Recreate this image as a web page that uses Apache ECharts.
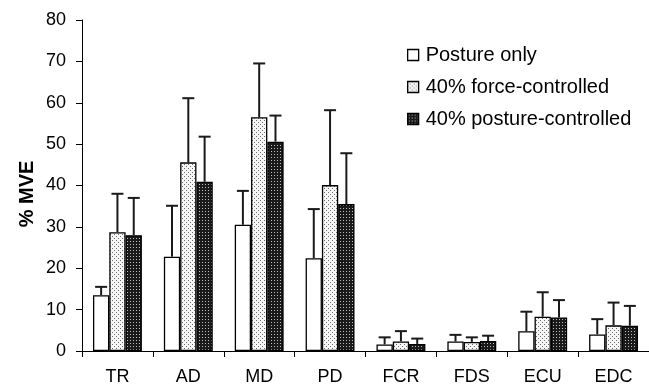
<!DOCTYPE html>
<html><head><meta charset="utf-8">
<script src="https://cdn.jsdelivr.net/npm/echarts@6/dist/echarts.min.js"></script>
<style>html,body{margin:0;padding:0;background:#fff}#c{width:649px;height:387px}</style>
</head><body><div id="c"></div>
<script>
var categories = ['TR','AD','MD','PD','FCR','FDS','ECU','EDC'];
var seriesNames = ['Posture only','40% force-controlled','40% posture-controlled'];
var postureOnly = [13.5, 22.8, 30.5, 22.4, 1.6, 2.3, 4.8, 4.0];
var forceCtrl   = [28.7, 45.6, 56.5, 40.1, 2.3, 2.2, 8.3, 6.2];
var postureCtrl = [28.0, 40.9, 50.6, 35.5, 1.7, 2.4, 8.1, 6.1];
var postureOnlySD = [2.0, 12.3, 8.2, 11.9, 1.7, 1.6, 4.7, 3.7];
var forceCtrlSD   = [9.3, 15.5, 13.0, 18.1, 2.5, 1.1, 5.9, 5.5];
var postureCtrlSD = [9.0, 10.9, 6.3, 12.3, 1.3, 1.3, 4.2, 4.8];
var yTicks = [0,10,20,30,40,50,60,70,80];

function makePattern(size, bg, fg, pts){
  var cv = document.createElement('canvas');
  cv.width = size; cv.height = size;
  var ctx = cv.getContext('2d');
  ctx.fillStyle = bg; ctx.fillRect(0,0,size,size);
  ctx.fillStyle = fg;
  pts.forEach(function(p){ ctx.fillRect(p[0],p[1],1,1); });
  return cv;
}
var dotPat = makePattern(4, '#f6f6f6', '#6a6a6a', [[0,0],[2,2]]);
var darkPat = makePattern(3, '#1a1a1a', '#bdbdbd', [[1,1]]);
var fills = ['#ffffff', {image: dotPat, repeat: 'repeat'}, {image: darkPat, repeat: 'repeat'}];
var means = [postureOnly, forceCtrl, postureCtrl];
var sds = [postureOnlySD, forceCtrlSD, postureCtrlSD];
var gapFrac = 0.31;

var chart = echarts.init(document.getElementById('c'), null, {renderer:'canvas'});
var series = [];
seriesNames.forEach(function(n,i){
  series.push({
    name: n, type: 'bar', data: means[i],
    barGap: '0%', barCategoryGap: '31%',
    itemStyle: {color: fills[i], borderColor: '#000', borderWidth: 1.3},
    emphasis: {disabled: true}, z: 2
  });
});
seriesNames.forEach(function(n,i){
  var d = means[i].map(function(v,k){ return [k, v, v + sds[i][k]]; });
  series.push({
    type: 'custom', data: d, z: 3, silent: true,
    encode: {x: 0, y: [1,2]},
    renderItem: function(params, api){
      var k = api.value(0);
      var band = api.size([1,0])[0];
      var bw = band * (1 - gapFrac) / 3;
      var pBase = api.coord([k, api.value(1)]);
      var pTop = api.coord([k, api.value(2)]);
      var x = pBase[0] + (i - 1) * bw;
      var st = {stroke: '#1a1a1a', lineWidth: 2};
      return {type: 'group', children: [
        {type: 'line', shape: {x1: x, y1: pBase[1], x2: x, y2: pTop[1]}, style: st},
        {type: 'line', shape: {x1: x - 6, y1: pTop[1], x2: x + 6, y2: pTop[1]}, style: st}
      ]};
    }
  });
});

chart.setOption({
  animation: false,
  grid: {left: 82, top: 20, width: 571, height: 331},
  legend: {
    data: seriesNames, orient: 'vertical', left: 402, top: 40,
    itemWidth: 11, itemHeight: 11, itemGap: 12,
    icon: 'rect',
    textStyle: {fontFamily: 'Liberation Sans, Arial', fontSize: 20, color: '#000', padding: [0,0,0,2]},
    itemStyle: {borderColor: '#000', borderWidth: 1.3}
  },
  xAxis: {
    type: 'category', data: categories,
    axisLine: {lineStyle: {color: '#000', width: 1}},
    axisTick: {show: true, length: 6, lineStyle: {color: '#000'}},
    axisLabel: {fontFamily: 'Liberation Sans, Arial', fontSize: 18, color: '#000', margin: 17},
    splitLine: {show: false}
  },
  yAxis: {
    type: 'value', min: yTicks[0], max: yTicks[yTicks.length-1], interval: 10,
    axisLine: {show: true, lineStyle: {color: '#000', width: 1}},
    axisTick: {show: true, length: 6, lineStyle: {color: '#000'}},
    axisLabel: {fontFamily: 'Liberation Sans, Arial', fontSize: 18, color: '#000', margin: 16},
    splitLine: {show: false}
  },
  graphic: [{
    type: 'text', x: 27, y: 194, rotation: Math.PI/2,
    style: {text: '% MVE', font: 'bold 20px "Liberation Sans", Arial', fill: '#000', align: 'center', verticalAlign: 'middle'}
  }],
  series: series
});
</script></body></html>
